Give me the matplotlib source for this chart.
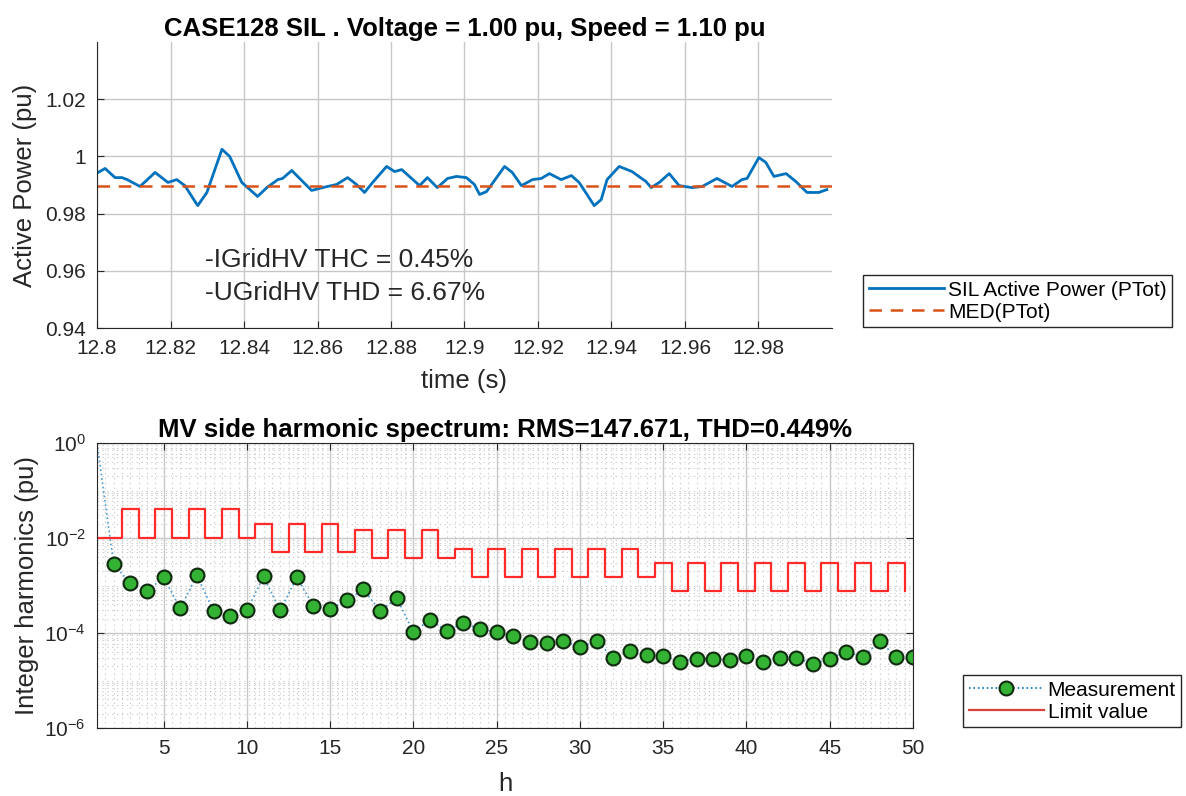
import numpy as np
import matplotlib
matplotlib.use('Agg')
import matplotlib.pyplot as plt
from matplotlib.lines import Line2D
from matplotlib.ticker import FixedLocator, NullFormatter

plt.rcParams['font.family'] = ['Liberation Sans', 'DejaVu Sans']
plt.rcParams['mathtext.default'] = 'regular'

# ---- top panel: active power time series
time_s = [12.8003, 12.8022, 12.8049, 12.8068, 12.8082, 12.8117, 12.8158, 12.8193,
          12.8217, 12.8239, 12.8274, 12.8299, 12.8340, 12.8361, 12.8394, 12.8437,
          12.8462, 12.8492, 12.8505, 12.8530, 12.8546, 12.8584, 12.8614, 12.8652,
          12.8682, 12.8706, 12.8728, 12.8750, 12.8788, 12.8810, 12.8829, 12.8850,
          12.8878, 12.8899, 12.8926, 12.8954, 12.8978, 12.9005, 12.9027, 12.9041,
          12.9060, 12.9109, 12.9130, 12.9155, 12.9185, 12.9209, 12.9231, 12.9263,
          12.9291, 12.9312, 12.9353, 12.9372, 12.9388, 12.9421, 12.9456, 12.9494,
          12.9508, 12.9530, 12.9557, 12.9584, 12.9619, 12.9647, 12.9687, 12.9728,
          12.9755, 12.9769, 12.9801, 12.9820, 12.9842, 12.9875, 12.9902, 12.9932,
          12.9964, 12.9986]
p_tot = [0.9944, 0.9958, 0.9926, 0.9926, 0.9919, 0.9895, 0.9944, 0.9909,
         0.9919, 0.9898, 0.9828, 0.9874, 1.0025, 1.0000, 0.9909, 0.9860,
         0.9891, 0.9919, 0.9923, 0.9951, 0.9930, 0.9881, 0.9891, 0.9902,
         0.9926, 0.9902, 0.9874, 0.9909, 0.9965, 0.9947, 0.9954, 0.9930,
         0.9898, 0.9926, 0.9891, 0.9923, 0.9930, 0.9926, 0.9902, 0.9867,
         0.9877, 0.9965, 0.9944, 0.9898, 0.9919, 0.9923, 0.9940, 0.9919,
         0.9933, 0.9909, 0.9828, 0.9849, 0.9919, 0.9965, 0.9947, 0.9912,
         0.9891, 0.9909, 0.9940, 0.9898, 0.9891, 0.9895, 0.9923, 0.9895,
         0.9919, 0.9923, 0.9996, 0.9979, 0.9930, 0.9940, 0.9912, 0.9874,
         0.9874, 0.9884]
p_med = 0.9895

top_xticks = [12.8, 12.82, 12.84, 12.86, 12.88, 12.9, 12.92, 12.94, 12.96, 12.98]
top_xlabels = ['12.8', '12.82', '12.84', '12.86', '12.88', '12.9', '12.92', '12.94', '12.96', '12.98']
top_yticks = [0.94, 0.96, 0.98, 1.0, 1.02]
top_ylabels = ['0.94', '0.96', '0.98', '1', '1.02']

# ---- bottom panel: harmonic spectrum
harm = list(range(1, 51))
meas = [1.0, 2.8e-3, 1.12e-3, 7.6e-4, 1.48e-3, 3.3e-4, 1.63e-3, 2.9e-4, 2.3e-4, 3.0e-4,
        1.55e-3, 3.0e-4, 1.48e-3, 3.7e-4, 3.2e-4, 4.9e-4, 8.3e-4, 2.9e-4, 5.4e-4, 1.05e-4,
        1.9e-4, 1.1e-4, 1.6e-4, 1.2e-4, 1.05e-4, 8.7e-5, 6.5e-5, 6.2e-5, 6.8e-5, 5.1e-5,
        6.8e-5, 3.0e-5, 4.2e-5, 3.5e-5, 3.3e-5, 2.5e-5, 2.9e-5, 2.9e-5, 2.7e-5, 3.3e-5,
        2.5e-5, 3.0e-5, 3.0e-5, 2.2e-5, 2.9e-5, 4.0e-5, 3.1e-5, 6.8e-5, 3.1e-5, 3.1e-5]
limit = [1e-2, 1e-2, 4e-2, 1e-2, 4e-2, 1e-2, 4e-2, 1e-2, 4e-2, 1e-2,
         2e-2, 5e-3, 2e-2, 5e-3, 2e-2, 5e-3, 1.5e-2, 3.75e-3, 1.5e-2, 3.75e-3,
         1.5e-2, 3.75e-3, 6e-3, 1.5e-3, 6e-3, 1.5e-3, 6e-3, 1.5e-3, 6e-3, 1.5e-3,
         6e-3, 1.5e-3, 6e-3, 1.5e-3, 3e-3, 7.5e-4, 3e-3, 7.5e-4, 3e-3, 7.5e-4,
         3e-3, 7.5e-4, 3e-3, 7.5e-4, 3e-3, 7.5e-4, 3e-3, 7.5e-4, 3e-3, 7.5e-4]

blue = '#0072BD'
orange = '#D95319'
gridc = '#c8c8c8'
dark = '#262626'
green = '#34b233'

fig = plt.figure(figsize=(11.86, 7.96), dpi=100)

# top axes
ax1 = fig.add_axes([0.0818, 0.5879, 0.6197, 0.3593])
ax1.plot(time_s, p_tot, color=blue, lw=2, label='SIL Active Power (PTot)')
ax1.axhline(p_med, color=orange, lw=1.8, ls=(0, (5, 3.5)), label='MED(PTot)')
ax1.set_xlim(12.8, 13.0)
ax1.set_ylim(0.94, 1.04)
ax1.set_xticks(top_xticks)
ax1.set_xticklabels(top_xlabels)
ax1.set_yticks(top_yticks)
ax1.set_yticklabels(top_ylabels)
ax1.grid(True, color=gridc, lw=1)
ax1.set_axisbelow(True)
for s in ['top', 'right']:
    ax1.spines[s].set_visible(False)
ax1.spines['left'].set_color(dark)
ax1.spines['bottom'].set_color(dark)
ax1.tick_params(labelsize=15, length=5, direction='in', color=dark, labelcolor=dark, pad=8)
ax1.set_xlabel('time (s)', fontsize=18.5, color=dark, labelpad=8)
ax1.set_ylabel('Active Power (pu)', fontsize=18.5, color=dark, labelpad=6)
ax1.set_title('CASE128 SIL . Voltage = 1.00 pu, Speed = 1.10 pu', fontsize=18.5,
              fontweight='bold', pad=4)
ax1.text(0.147, 0.213, '-IGridHV THC = 0.45%', transform=ax1.transAxes,
         fontsize=19, va='baseline', color=dark)
ax1.text(0.147, 0.098, '-UGridHV THD = 6.67%', transform=ax1.transAxes,
         fontsize=19, va='baseline', color=dark)
fig.legend(handles=ax1.get_lines()[:2], loc='upper left',
           bbox_to_anchor=(0.7192, 0.6671), fontsize=15, handlelength=3.6,
           labelspacing=0.15, borderpad=0.25, handletextpad=0.2,
           frameon=True, fancybox=False, edgecolor=dark, framealpha=1)

# bottom axes
ax2 = fig.add_axes([0.0818, 0.0854, 0.688, 0.358])
ax2.plot(harm, meas, ls=':', color=blue, lw=1.2, alpha=0.7)
ax2.plot(harm[1:], meas[1:], ls='none', marker='o', ms=10,
         mfc=green, mec='#0f2a0f', mew=1.5)
ax2.step(np.array(harm) - 0.5, limit, where='post', color='#ff2a2a', lw=1.6)
ax2.set_yscale('log')
ax2.set_xlim(1, 50)
ax2.set_ylim(1e-6, 1)
ax2.set_xticks([5, 10, 15, 20, 25, 30, 35, 40, 45, 50])
ax2.xaxis.set_minor_locator(FixedLocator(np.arange(1, 50.01, 0.5)))
ax2.set_yticks([1e-6, 1e-4, 1e-2, 1e0])
ax2.set_yticklabels(['$10^{-6}$', '$10^{-4}$', '$10^{-2}$', '$10^{0}$'])
minor_y = [m * 10.0 ** k for k in range(-6, 0) for m in range(1, 10) if not (m == 1 and k % 2 == 0)]
ax2.yaxis.set_minor_locator(FixedLocator(minor_y))
ax2.yaxis.set_minor_formatter(NullFormatter())
ax2.grid(True, which='major', color=gridc, lw=1)
ax2.grid(True, which='minor', color='#cccccc', lw=0.8, ls=(0, (1.2, 3.2)))
ax2.set_axisbelow(True)
ax2.tick_params(which='minor', length=0)
ax2.tick_params(which='major', labelsize=15, length=5, color=dark, pad=8,
                labelcolor=dark, right=True, top=True, direction='in')
for s in ax2.spines.values():
    s.set_color(dark)
ax2.set_xlabel('h', fontsize=18.5, color=dark, labelpad=10)
ax2.set_ylabel('Integer harmonics (pu)', fontsize=18.5, color=dark, labelpad=4)
ax2.set_title('MV side harmonic spectrum: RMS=147.671, THD=0.449%', fontsize=18.5,
              fontweight='bold', pad=4)

meas_handle = Line2D([], [], ls=':', color=blue, lw=1.2, marker='o', ms=10,
                     mfc=green, mec='#0f2a0f', mew=1.5)
limit_handle = Line2D([], [], color='#d94040', lw=1.6)
fig.legend(handles=[meas_handle, limit_handle], labels=['Measurement', 'Limit value'],
           loc='upper left', bbox_to_anchor=(0.8035, 0.1646), fontsize=15,
           handlelength=3.6, labelspacing=0.15, borderpad=0.25, handletextpad=0.2,
           frameon=True, fancybox=False, edgecolor=dark, framealpha=1)

fig.savefig('out.png', dpi=100, facecolor='white')
